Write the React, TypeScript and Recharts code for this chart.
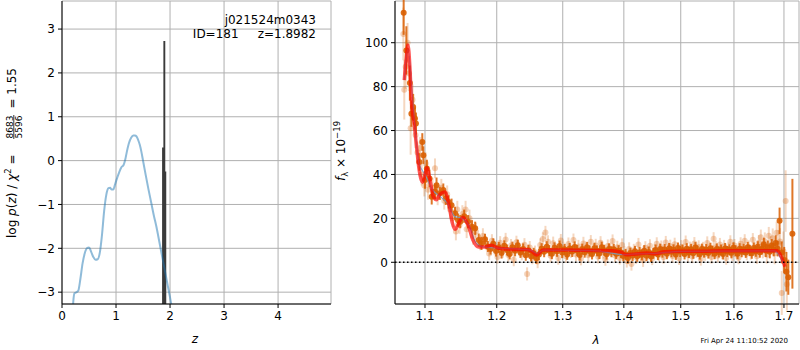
import React from 'react';
import {
  ComposedChart,
  Line,
  Area,
  Scatter,
  ErrorBar,
  XAxis,
  YAxis,
  CartesianGrid,
  ReferenceLine,
} from 'recharts';

const FONT = '"DejaVu Sans", sans-serif';

// ---- left panel: log p(z) ----
const pzZ = [
  0.19, 0.21, 0.23, 0.27, 0.3, 0.34, 0.38, 0.42, 0.46, 0.5, 0.54, 0.58, 0.62, 0.66, 0.7, 0.74,
  0.78, 0.82, 0.86, 0.89, 0.92, 0.95, 0.98, 1.02, 1.06, 1.1, 1.14, 1.17, 1.2, 1.24, 1.28, 1.32,
  1.35, 1.38, 1.41, 1.44, 1.47, 1.5, 1.55, 1.6, 1.65, 1.7, 1.75, 1.8, 1.85, 1.9, 1.95, 2.0, 2.04,
];
const pzLog = [
  -3.6, -3.2, -3.03, -3.0, -2.97, -2.7, -2.35, -2.12, -2.0, -1.98, -2.08, -2.2, -2.26, -2.25, -2.1, -1.7,
  -1.15, -0.78, -0.63, -0.62, -0.66, -0.66, -0.55, -0.4, -0.26, -0.15, -0.1, 0.02, 0.2, 0.4, 0.52, 0.57,
  0.57, 0.55, 0.47, 0.36, 0.2, 0.0, -0.33, -0.65, -0.95, -1.25, -1.52, -1.84, -2.16, -2.48, -2.8, -3.12, -3.4,
];
// fine-grid p(z) around the best redshift
const spikeZ = [1.853, 1.877, 1.912, 1.93];
const spikeLog = [0.3, 2.73, -0.25, -3.3];

const zTicks = [0, 1, 2, 3, 4];
const pzTicks = [-3, -2, -1, 0, 1, 2, 3];

// ---- right panel: spectrum ----
const modelWave = [
  1.0727, 1.075, 1.0775, 1.08, 1.082, 1.086, 1.089, 1.0915, 1.095, 1.0967, 1.1, 1.1025, 1.107, 1.111,
  1.1155, 1.12, 1.127, 1.133, 1.137, 1.1408, 1.148, 1.152, 1.16, 1.166, 1.174, 1.183, 1.1925, 1.2015,
  1.215, 1.23, 1.2448, 1.253, 1.2595, 1.2691, 1.29, 1.32, 1.35, 1.38, 1.395, 1.405, 1.42, 1.44, 1.455,
  1.47, 1.5, 1.54, 1.58, 1.62, 1.66, 1.686, 1.6955, 1.702,
];
const modelFlux = [
  83, 92, 99, 89, 74, 62, 52, 44, 37.5, 36.5, 40, 43, 37, 30,
  28.5, 31, 32, 25, 18, 15, 19, 20.5, 16, 10, 7, 7, 7.8, 6.5,
  6, 5.8, 5.8, 4.8, 3.3, 5.6, 5.6, 5.5, 5.4, 5.2, 4.6, 3.4, 3.8, 4.2, 3.9,
  4.8, 5.0, 5.0, 5.2, 5.2, 5.3, 5.2, 2, -2,
];
const contWave = [
  1.0727, 1.0775, 1.085, 1.092, 1.1, 1.11, 1.12, 1.13, 1.14, 1.15, 1.16, 1.17, 1.18, 1.2, 1.25,
  1.26, 1.27, 1.35, 1.4, 1.42, 1.45, 1.5, 1.68, 1.7,
];
const contFlux = [
  83, 97, 68, 45, 40, 33, 30, 27, 21, 20, 17, 9, 7, 6.5, 5.5,
  4, 5.5, 5.3, 3.5, 3.8, 4, 5, 5.2, -1,
];

// [wavelength, flux, error]
const darkSpec = [
  [1.0719, 113.6, 10], [1.0754, 96.5, 11], [1.08, 81.6, 8], [1.082, 67.7, 6], [1.0843, 70.7, 6],
  [1.0867, 65.5, 5], [1.088, 63.2, 5], [1.0925, 45.7, 4], [1.0964, 54.8, 4], [1.0978, 48.8, 4],
  [1.1, 37.5, 4], [1.1025, 42.7, 4], [1.106, 38.2, 4], [1.109, 29.8, 3.5], [1.1134, 32.1, 3.5],
  [1.1155, 35.1, 3.5], [1.12, 31.4, 3], [1.1247, 32.9, 3], [1.128, 29.1, 3], [1.132, 27.5, 3],
  [1.136, 26, 3], [1.1408, 22.3, 3], [1.145, 19.2, 3], [1.148, 18.5, 3], [1.1535, 21, 3],
  [1.159, 18.5, 3], [1.1645, 16.2, 3], [1.169, 15.5, 3], [1.174, 10.1, 3], [1.178, 8.6, 3],
  [1.183, 10.5, 2.5], [1.187, 7.2, 2.5], [1.191, 6.0, 2.5], [1.195, 8.4, 2.5], [1.199, 5.1, 2.5],
  [1.203, 6.8, 2.5], [1.207, 4.2, 2.5], [1.211, 7.5, 2.5], [1.215, 5.6, 2.5], [1.219, 3.8, 2.5],
  [1.223, 6.9, 2.5], [1.227, 5.2, 2.5], [1.231, 7.8, 2.5], [1.235, 4.5, 2.5], [1.239, 6.1, 2.5],
  [1.243, 3.2, 2.5], [1.247, 5.5, 2.5], [1.251, 2.8, 2.5], [1.255, 4.1, 2.5], [1.259, 1.8, 2.5],
  [1.263, 3.5, 2.5], [1.267, 6.2, 2.5], [1.271, 4.8, 2.5], [1.275, 7.1, 2.5], [1.279, 5.3, 2.5],
  [1.283, 3.9, 2.5], [1.287, 6.6, 2.5], [1.291, 5.0, 2.5], [1.295, 7.4, 2.5], [1.299, 4.4, 2.5],
  [1.303, 5.9, 2.5], [1.307, 3.6, 2.5], [1.311, 6.3, 2.5], [1.315, 4.9, 2.5], [1.319, 7.0, 2.5],
  [1.323, 5.4, 2.5], [1.327, 3.3, 2.5], [1.331, 6.0, 2.5], [1.335, 4.6, 2.5], [1.339, 6.8, 2.5],
  [1.343, 5.1, 2.5], [1.347, 3.8, 2.5], [1.351, 6.4, 2.5], [1.355, 5.2, 2.5], [1.359, 4.0, 2.5],
  [1.363, 6.9, 2.5], [1.367, 5.5, 2.5], [1.371, 3.7, 2.5], [1.375, 6.1, 2.5], [1.379, 4.8, 2.5],
  [1.383, 5.9, 2.5], [1.387, 3.9, 2.5], [1.391, 5.3, 2.5], [1.395, 4.4, 2.5], [1.399, 2.9, 2.5],
  [1.403, 3.6, 2.5], [1.407, 1.9, 2.5], [1.411, 4.2, 2.5], [1.415, 3.1, 2.5], [1.419, 5.0, 2.5],
  [1.423, 2.7, 2.5], [1.427, 4.5, 2.5], [1.431, 3.4, 2.5], [1.435, 5.3, 2.5], [1.439, 3.0, 2.5],
  [1.443, 4.7, 2.5], [1.447, 2.6, 2.5], [1.451, 4.1, 2.5], [1.455, 5.6, 2.5], [1.459, 3.5, 2.5],
  [1.463, 6.0, 2.5], [1.467, 4.6, 2.5], [1.471, 5.8, 2.5], [1.475, 3.9, 2.5], [1.479, 6.3, 2.5],
  [1.483, 4.8, 2.5], [1.487, 5.7, 2.5], [1.491, 3.6, 2.5], [1.495, 6.5, 2.5], [1.499, 4.9, 2.5],
  [1.503, 5.5, 2.5], [1.507, 3.8, 2.5], [1.511, 6.2, 2.5], [1.515, 4.4, 2.5], [1.519, 5.9, 2.5],
  [1.523, 4.1, 2.5], [1.527, 6.7, 2.5], [1.531, 5.0, 2.5], [1.535, 3.7, 2.5], [1.539, 6.0, 2.5],
  [1.543, 4.6, 2.5], [1.547, 5.8, 2.5], [1.551, 4.2, 2.5], [1.555, 6.4, 2.5], [1.559, 5.1, 2.5],
  [1.563, 3.9, 2.5], [1.567, 6.1, 2.5], [1.571, 4.7, 2.5], [1.575, 5.6, 2.5], [1.579, 3.8, 2.5],
  [1.583, 6.3, 2.5], [1.587, 4.9, 2.5], [1.591, 5.7, 2.5], [1.595, 4.3, 2.5], [1.599, 6.6, 2.5],
  [1.603, 5.2, 2.5], [1.607, 3.9, 2.5], [1.611, 6.2, 2.5], [1.615, 4.8, 2.5], [1.619, 5.9, 2.5],
  [1.623, 4.5, 2.5], [1.627, 6.8, 2.5], [1.631, 5.3, 2.5], [1.635, 4.1, 2.5], [1.639, 6.5, 2.5],
  [1.643, 5.0, 2.5], [1.647, 7.1, 2.5], [1.651, 4.6, 2.5], [1.655, 6.0, 2.5], [1.659, 8.2, 3],
  [1.663, 5.4, 3], [1.667, 6.9, 3], [1.671, 4.8, 3], [1.675, 7.6, 3], [1.679, 5.7, 3],
  [1.683, 8.8, 3.5], [1.687, 6.2, 3.5], [1.691, 18.9, 6], [1.6955, 4.5, 5], [1.7005, 1.0, 6],
  [1.705, -4.3, 9], [1.709, -6.8, 8], [1.7175, 13, 25],
];

const lightSpec = [
  [1.0715, 104, 12], [1.0727, 78.6, 13.6], [1.0745, 89, 10], [1.077, 100, 9], [1.079, 86, 8],
  [1.081, 61, 12], [1.0835, 74, 7], [1.0855, 66, 6], [1.0875, 58, 6], [1.09, 50, 5],
  [1.0935, 52, 5], [1.0955, 40, 5], [1.099, 35, 5], [1.101, 45, 5], [1.104, 33, 4.5],
  [1.11, 34, 4.5], [1.1134, 42.8, 4.5], [1.117, 30, 4], [1.122, 34, 4], [1.126, 28, 4],
  [1.13, 31, 4], [1.134, 24, 4], [1.138, 20, 4], [1.142, 14, 4], [1.144, 24, 4],
  [1.147, 17, 4], [1.151, 22, 4], [1.1555, 24, 4], [1.157, 15, 4], [1.161, 20, 4],
  [1.166, 12, 4], [1.17, 14, 4], [1.176, 9, 3.5], [1.18, 12, 3.5],
  [1.185, 8.5, 3], [1.189, 4.0, 3], [1.193, 9.8, 3], [1.197, 6.2, 3], [1.201, 2.4, 3],
  [1.205, 8.9, 3], [1.209, 5.1, 3], [1.213, 10.4, 3], [1.217, 3.3, 3], [1.221, 7.6, 3],
  [1.225, 1.2, 3], [1.229, 9.1, 3], [1.233, 5.8, 3], [1.237, 3.9, 3], [1.241, 8.0, 3],
  [1.245, -5.3, 3], [1.249, 6.7, 3], [1.253, 2.1, 3], [1.257, 4.6, 3], [1.261, 0.3, 3],
  [1.265, 7.9, 3], [1.269, 10.6, 3], [1.273, 13.6, 3], [1.277, 9.3, 3], [1.281, 3.0, 3],
  [1.285, 8.7, 3], [1.289, 5.6, 3], [1.293, 1.9, 3], [1.297, 9.9, 3], [1.301, 6.4, 3],
  [1.305, 2.8, 3], [1.309, 8.3, 3], [1.313, 5.0, 3], [1.317, 10.1, 3], [1.321, 3.5, 3],
  [1.325, 7.2, 3], [1.329, 1.6, 3], [1.333, 8.6, 3], [1.337, 6.0, 3], [1.341, 3.2, 3],
  [1.345, 9.4, 3], [1.349, 5.3, 3], [1.353, 7.7, 3], [1.357, 2.5, 3], [1.361, 8.9, 3],
  [1.365, 4.7, 3], [1.369, 1.4, 3], [1.373, 7.4, 3], [1.377, 5.9, 3], [1.381, 9.7, 3],
  [1.385, 3.1, 3], [1.389, 6.8, 3], [1.393, 2.0, 3], [1.397, 7.9, 3], [1.401, 4.3, 3],
  [1.405, 0.6, 3], [1.409, 6.1, 3], [1.413, -0.8, 3], [1.417, 5.4, 3], [1.421, 2.2, 3],
  [1.425, 8.1, 3], [1.429, 3.8, 3], [1.433, 0.9, 3], [1.437, 6.6, 3], [1.441, 4.0, 3],
  [1.445, 7.5, 3], [1.449, 1.7, 3], [1.453, 5.2, 3], [1.457, 8.4, 3], [1.461, 3.4, 3],
  [1.465, 6.9, 3], [1.469, 2.3, 3], [1.473, 9.0, 3], [1.477, 5.0, 3], [1.481, 7.3, 3],
  [1.485, 2.9, 3], [1.489, 8.2, 3], [1.493, 4.6, 3], [1.497, 1.8, 3], [1.501, 7.1, 3],
  [1.505, 5.5, 3], [1.509, 9.2, 3], [1.513, 3.3, 3], [1.517, 6.4, 3], [1.521, 2.6, 3],
  [1.525, 8.5, 3], [1.529, 4.9, 3], [1.533, 7.0, 3], [1.537, 1.5, 3], [1.541, 6.3, 3],
  [1.545, 3.7, 3], [1.549, 8.8, 3], [1.553, 5.1, 3], [1.557, 2.4, 3], [1.561, 10.7, 3],
  [1.565, 6.7, 3], [1.569, 3.0, 3], [1.573, 8.1, 3], [1.577, 4.4, 3], [1.581, 7.2, 3],
  [1.585, 1.9, 3], [1.589, 6.0, 3], [1.593, 9.3, 3], [1.597, 3.6, 3], [1.601, 7.6, 3],
  [1.605, 4.8, 3], [1.609, 2.1, 3], [1.613, 8.4, 3], [1.617, 5.7, 3], [1.621, 9.8, 3],
  [1.625, 3.9, 3], [1.629, 7.0, 3], [1.633, 4.2, 3], [1.637, 10.3, 3], [1.641, 6.1, 3],
  [1.645, 2.7, 3.5], [1.649, 8.9, 3.5], [1.653, 11.4, 3.5], [1.657, 5.3, 3.5], [1.661, 9.6, 4],
  [1.665, 3.4, 4], [1.669, 12.1, 4], [1.673, 7.8, 4], [1.677, 10.9, 4.5], [1.681, 4.1, 5],
  [1.685, 13.5, 5], [1.689, 8.7, 6], [1.692, 9.5, 6], [1.6955, -14, 10], [1.699, 5, 9],
  [1.7035, 27.9, 14], [1.706, -10, 12],
];

const waveTicks = [1.1, 1.2, 1.3, 1.4, 1.5, 1.6, 1.7];
const fluxTicks = [0, 20, 40, 60, 80, 100];

const toPoints = (rows: number[][]) => rows.map(([x, y, err]) => ({ x, y, err }));
const toLine = (xs: number[], ys: number[]) => xs.map((x, i) => ({ x, y: ys[i] }));

const ORANGE = '#d95f02';
const tickStyle = { fill: '#000', fontSize: 12, fontFamily: FONT };
const minus = (v: number) => (v < 0 ? `\u2212${Math.abs(v)}` : `${v}`);

function PzPanel() {
  const curve = toLine(pzZ, pzLog);
  const spike = toLine(spikeZ, spikeLog);
  return (
    <ComposedChart width={340} height={350} margin={{ top: 1, right: 9, bottom: 0, left: 0 }}>
      <CartesianGrid stroke="#b0b0b0" strokeWidth={1} />
      <XAxis
        type="number"
        dataKey="x"
        domain={[0, 4.98]}
        ticks={zTicks}
        allowDataOverflow
        height={46}
        tick={tickStyle}
        tickSize={4}
        tickMargin={3}
        tickLine={{ stroke: '#000' }}
        axisLine={{ stroke: '#000' }}
      />
      <XAxis xAxisId="top" orientation="top" type="number" domain={[0, 4.98]} height={0} tick={false} tickLine={false} axisLine={{ stroke: '#000' }} />
      <YAxis
        type="number"
        domain={[-3.27, 3.64]}
        ticks={pzTicks}
        allowDataOverflow
        width={62}
        tick={tickStyle}
        tickFormatter={minus}
        tickSize={4}
        tickMargin={3}
        tickLine={{ stroke: '#000' }}
        axisLine={{ stroke: '#000' }}
      />
      <YAxis yAxisId="right" orientation="right" type="number" domain={[-3.27, 3.64]} width={0} tick={false} tickLine={false} axisLine={{ stroke: '#000' }} />
      <Line
        data={curve}
        dataKey="y"
        type="monotone"
        stroke="#1f77b4"
        strokeOpacity={0.5}
        strokeWidth={2}
        dot={false}
        isAnimationActive={false}
      />
      <Area
        data={spike}
        dataKey="y"
        type="stepAfter"
        baseValue="dataMin"
        fill="#3a3a3a"
        fillOpacity={1}
        stroke="none"
        isAnimationActive={false}
      />
    </ComposedChart>
  );
}

function SpecPanel() {
  const dark = toPoints(darkSpec);
  const light = toPoints(lightSpec);
  const model = toLine(modelWave, modelFlux);
  const cont = toLine(contWave, contFlux);
  return (
    <ComposedChart width={470} height={350} margin={{ top: 1, right: 1, bottom: 0, left: 0 }}>
      <CartesianGrid stroke="#b0b0b0" strokeWidth={1} />
      <XAxis
        type="number"
        dataKey="x"
        scale="log"
        domain={[1.0607, 1.7313]}
        ticks={waveTicks}
        allowDataOverflow
        height={46}
        tick={tickStyle}
        tickFormatter={(v: number) => v.toFixed(1)}
        tickSize={4}
        tickMargin={3}
        tickLine={{ stroke: '#000' }}
        axisLine={{ stroke: '#000' }}
      />
      <XAxis xAxisId="top" orientation="top" type="number" scale="log" domain={[1.0607, 1.7313]} height={0} tick={false} tickLine={false} axisLine={{ stroke: '#000' }} />
      <YAxis
        type="number"
        domain={[-19, 119]}
        ticks={fluxTicks}
        allowDataOverflow
        width={65}
        tick={tickStyle}
        tickSize={4}
        tickMargin={3}
        tickLine={{ stroke: '#000' }}
        axisLine={{ stroke: '#000' }}
      />
      <YAxis yAxisId="right" orientation="right" type="number" domain={[-19, 119]} width={0} tick={false} tickLine={false} axisLine={{ stroke: '#000' }} />
      <Scatter
        data={light}
        dataKey="y"
        isAnimationActive={false}
        shape={(p: any) => <circle cx={p.cx} cy={p.cy} r={3} fill={ORANGE} fillOpacity={0.28} />}
      >
        <ErrorBar dataKey="err" direction="y" width={0} stroke="rgba(217,95,2,0.25)" strokeWidth={2} />
      </Scatter>
      <Scatter
        data={dark}
        dataKey="y"
        isAnimationActive={false}
        shape={(p: any) => <circle cx={p.cx} cy={p.cy} r={3} fill={ORANGE} fillOpacity={0.9} />}
      >
        <ErrorBar dataKey="err" direction="y" width={0} stroke="rgba(217,95,2,0.85)" strokeWidth={2} />
      </Scatter>
      <Line data={cont} dataKey="y" type="monotone" stroke="#6f9fcf" strokeOpacity={0.8} strokeWidth={1.2} dot={false} isAnimationActive={false} zIndex={650} />
      <Line data={model} dataKey="y" type="monotone" stroke="#ff0000" strokeOpacity={0.65} strokeWidth={3.5} dot={false} isAnimationActive={false} zIndex={700} />
      <ReferenceLine y={0} stroke="#000" strokeWidth={1.5} strokeDasharray="1.5 2.5" zIndex={800} />
    </ComposedChart>
  );
}

function Labels() {
  return (
    <svg width={800} height={350} style={{ position: 'absolute', left: 0, top: 0, pointerEvents: 'none' }} fontFamily={FONT}>
      <text x={316} y={23.5} fontSize={12} textAnchor="end">j021524m0343</text>
      <text x={316} y={38} fontSize={12} textAnchor="end" style={{ whiteSpace: 'pre' }}>ID=181     z=1.8982</text>
      <text x={195} y={343} fontSize={12} fontStyle="italic" textAnchor="middle">z</text>
      <text x={596} y={344} fontSize={12} fontStyle="italic" textAnchor="middle">λ</text>
      <text x={788} y={343} fontSize={7} textAnchor="end">Fri Apr 24 11:10:52 2020</text>
      {/* left y label: log p(z) / chi^2 = 8683/5596 = 1.55 */}
      <g transform="translate(16,153) rotate(-90)">
        <text x={-85} y={0} fontSize={12} style={{ whiteSpace: 'pre' }}>
          log <tspan fontStyle="italic">p</tspan>(<tspan fontStyle="italic">z</tspan>) / <tspan fontStyle="italic">χ</tspan>
          <tspan fontSize={8.5} dy={-5}>2</tspan>
          <tspan dy={5}> =</tspan>
        </text>
        <text x={26} y={-3.5} fontSize={9} textAnchor="middle">8683</text>
        <line x1={14} x2={38} y1={-2.2} y2={-2.2} stroke="#000" strokeWidth={0.8} />
        <text x={26} y={5.5} fontSize={9} textAnchor="middle">5596</text>
        <text x={85} y={0} fontSize={12} textAnchor="end" style={{ whiteSpace: 'pre' }}>= 1.55</text>
      </g>
      {/* right y label: f_lambda x 10^-19 */}
      <g transform="translate(345,151) rotate(-90)">
        <text x={0} y={0} fontSize={12} textAnchor="middle">
          <tspan fontStyle="italic">f</tspan>
          <tspan fontSize={8.5} dy={3}>λ</tspan>
          <tspan dy={-3}> × 10</tspan>
          <tspan fontSize={8.5} dy={-5}>−19</tspan>
        </text>
      </g>
    </svg>
  );
}

export default function App() {
  return (
    <div style={{ position: 'absolute', left: 0, top: 0, width: 800, height: 350, background: '#fff', fontFamily: FONT }}>
      <div style={{ position: 'absolute', left: 0, top: 0 }}>
        <PzPanel />
      </div>
      <div style={{ position: 'absolute', left: 330, top: 0 }}>
        <SpecPanel />
      </div>
      <Labels />
    </div>
  );
}
